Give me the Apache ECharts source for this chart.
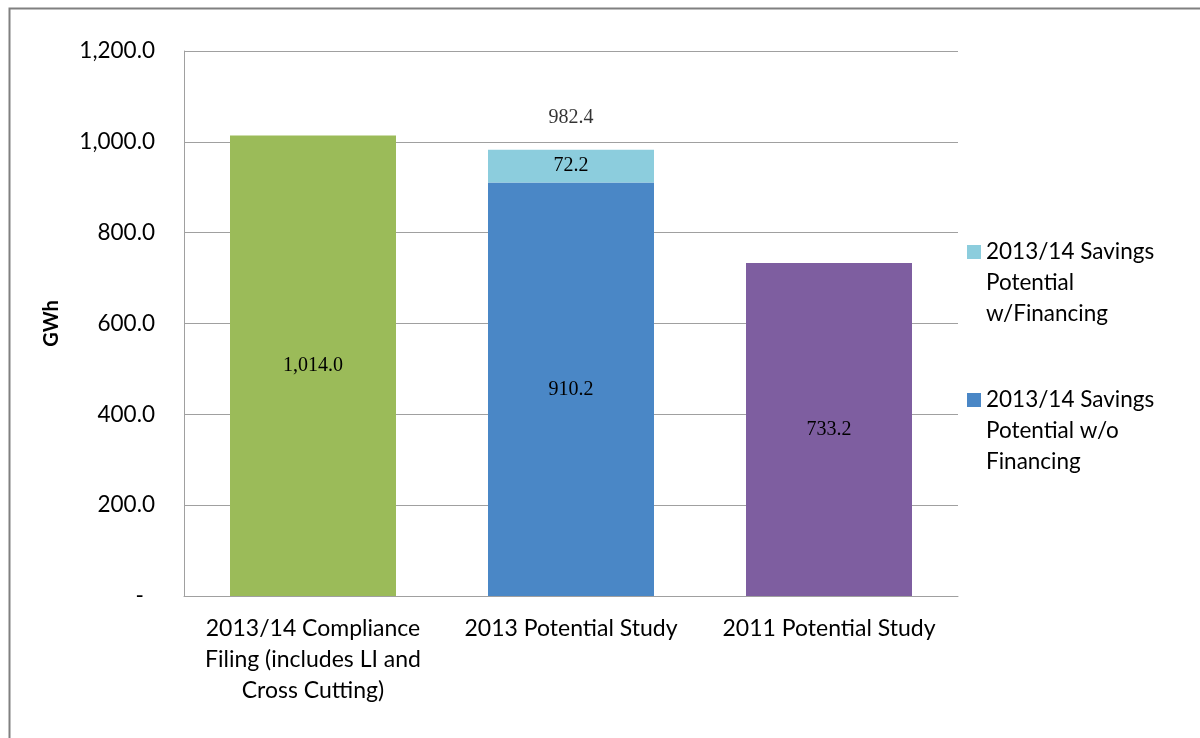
<!DOCTYPE html>
<html>
<head>
<meta charset="utf-8">
<script src="https://cdn.jsdelivr.net/npm/echarts@6/dist/echarts.min.js"></script>
<style>html,body{margin:0;padding:0;background:#fff;}#c{width:1200px;height:738px;}</style>
</head>
<body>
<div id="c"></div>
<script>
const categories = ['2013/14 Compliance\nFiling (includes LI and\nCross Cutting)', '2013 Potential Study', '2011 Potential Study'];
const seriesNames = ['2013/14 Savings\nPotential w/o\nFinancing', '2013/14 Savings\nPotential\nw/Financing'];
const withoutFinancing = [1014.0, 910.2, 733.2];
const withFinancing = [null, 72.2, null];
const totals = [null, 982.4, null];
const barColors = ['#9bbb59', '#4a87c6', '#7e5ea0'];
const financingColor = '#8ccddd';
const yTicks = { min: 0, max: 1200, interval: 200 };

const fmt = v => Number(v).toLocaleString('en-US', { minimumFractionDigits: 1, maximumFractionDigits: 1 });
const tickFmt = v => v === 0 ? '-\u2002' : fmt(v);
const uiFont = 'Lato';
const serifFont = 'Liberation Serif';
// square legend marker aligned with the first of three text lines (31px line height)
const legendIcon = 'path://M0,0L0.01,0L0.01,0.01Z M0,8.5H14V22.5H0Z M0,92.99L0.01,92.99L0.01,93Z';

const chart = echarts.init(document.getElementById('c'), null, { renderer: 'canvas' });
chart.setOption({
  animation: false,
  backgroundColor: '#fff',
  graphic: [{
    type: 'rect', left: 7, top: 6, silent: true,
    shape: { width: 1400, height: 900 },
    style: { fill: 'none', stroke: '#808080', lineWidth: 2 }
  }],
  grid: { left: 184, right: 242, top: 51, bottom: 142 },
  legend: {
    orient: 'vertical',
    left: 967, top: 236.5,
    padding: 0,
    itemWidth: 14, itemHeight: 93,
    itemGap: 55,
    icon: legendIcon,
    itemStyle: { borderWidth: 0 },
    data: [seriesNames[1], seriesNames[0]],
    textStyle: { fontFamily: uiFont, fontSize: 22.5, lineHeight: 31, color: '#000' }
  },
  xAxis: {
    type: 'category',
    data: categories,
    axisLine: { lineStyle: { color: '#a0a0a0', width: 1 } },
    axisTick: { show: false },
    axisLabel: { fontFamily: uiFont, fontSize: 23, lineHeight: 31, color: '#000', margin: 17, interval: 0 }
  },
  yAxis: {
    type: 'value',
    min: yTicks.min, max: yTicks.max, interval: yTicks.interval,
    name: 'GWh', nameLocation: 'middle', nameGap: 122,
    nameTextStyle: { fontFamily: uiFont, fontSize: 20, fontWeight: 'bold', color: '#000' },
    axisLine: { show: true, lineStyle: { color: '#a0a0a0', width: 1 } },
    axisTick: { show: false },
    splitLine: { lineStyle: { color: '#a0a0a0', width: 1 } },
    axisLabel: { fontFamily: uiFont, fontSize: 22.5, color: '#000', margin: 29, formatter: tickFmt }
  },
  series: [
    {
      name: seriesNames[0], type: 'bar', stack: 'a', barWidth: 166,
      itemStyle: { color: barColors[1] },
      data: withoutFinancing.map((v, i) => ({ value: v, itemStyle: { color: barColors[i] } })),
      label: { show: true, position: 'inside', fontFamily: serifFont, fontSize: 20, color: '#000', formatter: p => fmt(p.value) }
    },
    {
      name: seriesNames[1], type: 'bar', stack: 'a', barWidth: 166,
      itemStyle: { color: financingColor },
      data: withFinancing,
      label: { show: true, position: 'inside', fontFamily: serifFont, fontSize: 20, color: '#000', formatter: p => fmt(p.value) }
    },
    {
      name: 'Total', type: 'scatter', symbolSize: 0,
      data: totals.map((v, i) => v == null ? null : [i, v]).filter(d => d),
      label: { show: true, position: 'top', distance: 22, fontFamily: serifFont, fontSize: 20, color: '#000', formatter: p => fmt(p.value[1]) }
    }
  ]
});
</script>
</body>
</html>
